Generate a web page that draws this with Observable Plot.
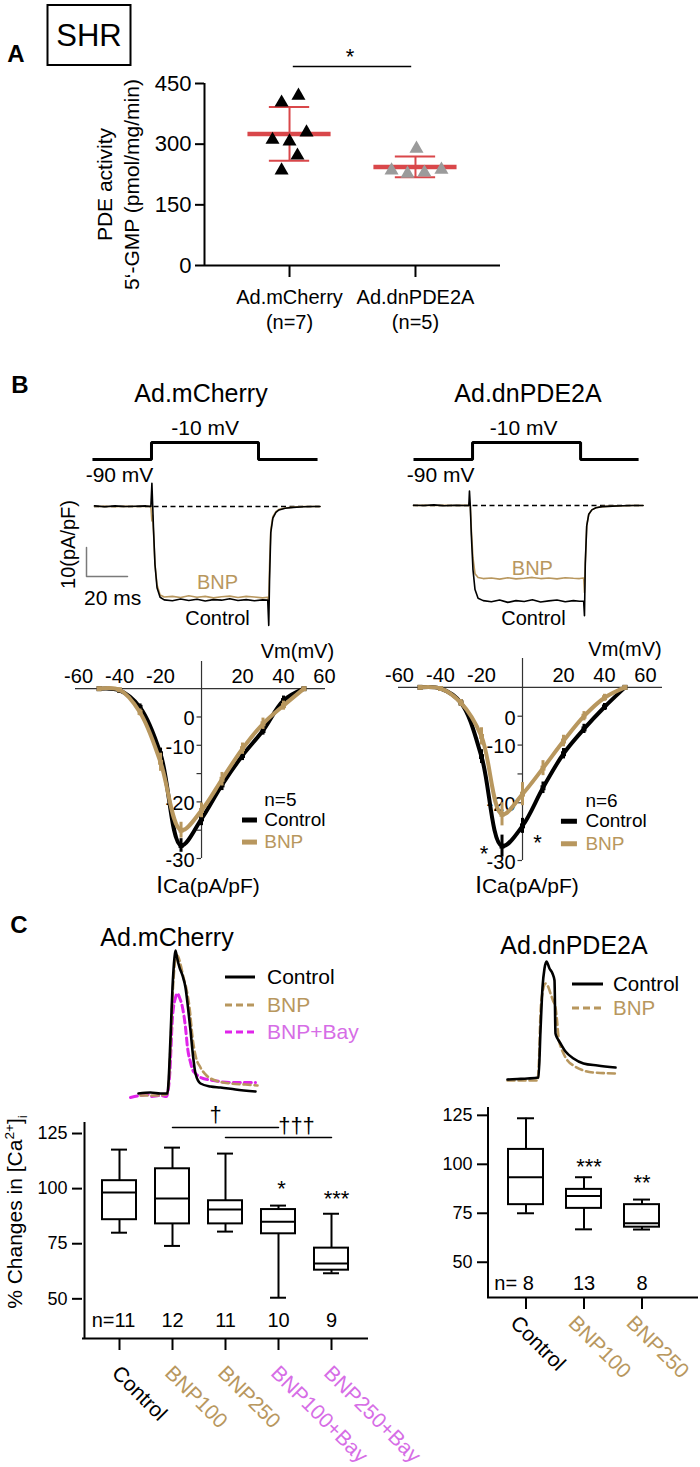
<!DOCTYPE html>
<html>
<head>
<meta charset="utf-8">
<script src="https://cdn.jsdelivr.net/npm/d3@7"></script>
<script src="https://cdn.jsdelivr.net/npm/@observablehq/plot@0.6"></script>
<style>
html,body{margin:0;padding:0;background:#fff;}
#fig{position:relative;width:700px;height:1467px;overflow:hidden;font-family:"Liberation Sans",Arial,Helvetica,sans-serif;color:#000;background:#fff;}
#fig svg{position:absolute;overflow:visible;}
.t{position:absolute;white-space:nowrap;line-height:1;}
sup,sub{font-size:0.65em;line-height:0;}
</style>
</head>
<body>
<div id="fig"></div>
<script>
// ================= DATA =================
// Panel A – PDE activity
const groupsA = ["Ad.mCherry", "Ad.dnPDE2A"];
const nLabelsA = ["(n=7)", "(n=5)"];
const pdeMCherry = [403, 420, 329, 311, 307, 272, 235];
const pdeDnPDE2A = [235, 227, 289, 230, 237];
const ticksA = [0, 150, 300, 450];

// Panel B – voltage protocol (ms, mV)
const stepVolt = [-90, -90, -10, -10, -90, -90];
const stepTimeL = [-1, 27.8, 27.8, 80, 80, 108.8];
const stepTimeR = [0, 28.8, 28.8, 81.5, 81.5, 109.8];

// Panel B – current traces (ms, pA/pF)
const traceTimeL = [0,5,10,15,20,25,27.5,28,28.3,28.8,29.5,30.5,32,34,38,42,46,50,54,58,62,66,70,74,78,82,84.5,85,85.4,86,87,88.5,90,93,97,102,107,110];
const traceCtrlL = [0.2,-0.1,0.2,0,0.1,0.2,0,8,2,-8,-20,-28,-31.3,-32.2,-32.5,-31.9,-32.4,-32,-32.6,-32.1,-32.3,-31.8,-32.4,-32.1,-32.5,-32.2,-32.3,-41,-25,-9,-4,-2,-1.2,-0.6,-0.3,-0.1,0,0];
const traceBnpL  = [0,0.1,-0.1,0.1,0,0.1,0,-5,-3,-9,-20,-27,-30.5,-31.2,-31.0,-31.4,-30.8,-31.3,-31.0,-31.5,-31.1,-30.9,-31.4,-31.0,-31.2,-31.5,-31.3,-33,-20,-8,-3.5,-1.8,-1,-0.5,-0.2,0,0,0];
const traceTimeR = [0,5,10,15,20,25,27,27.3,27.7,28.2,29,30,31.5,34,38,42,46,50,54,58,62,66,70,74,78,81,83,83.4,83.8,84.5,85.5,87,89,92,97,102,107,112];
const traceCtrlR = [0.1,0,0.2,-0.1,0.1,0,0,5,0,-10,-22,-29,-32,-32.8,-33.2,-32.6,-33.4,-32.8,-33.1,-32.5,-33.3,-32.9,-32.6,-33.2,-32.8,-33,-33,-38,-20,-7,-3,-1.5,-0.8,-0.4,-0.2,-0.1,0,0];
const traceBnpR  = [0,0.1,0,0.1,0,0.1,0,1,0,-8,-18,-23.5,-24.8,-25.2,-25.0,-25.4,-24.9,-25.3,-25.1,-24.8,-25.2,-25.0,-25.3,-24.9,-25.1,-25.2,-25.0,-30,-20,-7,-3,-1.5,-0.8,-0.4,-0.2,-0.1,0,0];
const scaleBarCurrent = 10;   // pA/pF
const scaleBarTime = 20;      // ms

// Panel B – I–V relationships
const ivVm = [-50,-40,-30,-20,-10,0,10,20,30,40,50];
const ivCtrlL = [0,-0.3,-3.3,-11.5,-27.7,-23,-17,-11.8,-7.4,-2.1,0];
const ivBnpL  = [0,-0.2,-4.2,-13,-25,-21.5,-16,-10.6,-6.2,-3,0];
const ivSemCtrlL = [0.2,0.3,0.6,1.0,1.2,1.2,1.0,0.9,0.8,0.8,0.2];
const ivSemBnpL  = [0.2,0.3,0.6,1.6,1.4,1.3,1.2,1.0,1.0,0.8,0.2];
const ivCtrlR = [0,-0.2,-2.7,-12,-27.5,-24,-17.4,-11.5,-7.2,-3.4,0];
const ivBnpR  = [0,-0.2,-2.7,-8.5,-22,-18.5,-14,-9.3,-5,-1.8,0];
const ivSemCtrlR = [0.2,0.3,0.6,1.2,1.9,1.3,1.0,0.9,0.8,0.6,0.2];
const ivSemBnpR  = [0.2,0.3,0.6,1.5,2.0,2.0,1.3,1.0,0.8,0.6,0.2];
const ivXTicks = [-60,-40,-20,20,40,60];
const ivYTicks = [-5,-10,-15,-20,-25,-30];
const ivYLabelAt = [-5,-10,-20,-30];
const ivYLabelText = ["0","-10","-20","-30"];

// Panel C – Ca2+ transients (ms, ratio)
const caTimeCtrlL = [80,200,300,370,380,400,420,440,450,465,490,520,550,575,600,625,650,700,800,900,1050,1250];
const caCtrlL     = [1.04,1.05,1.04,1.04,1.15,1.6,2.1,2.4,2.47,2.4,2.3,2.22,2.1,1.9,1.67,1.42,1.24,1.14,1.11,1.1,1.08,1.06];
const caTimeBnpL  = [100,250,360,380,400,420,445,470,500,530,560,590,620,650,700,760,850,1000,1150,1270];
const caBnpL      = [1.02,1.02,1.03,1.12,1.5,2.0,2.35,2.42,2.33,2.2,2.08,1.9,1.6,1.42,1.3,1.22,1.17,1.14,1.13,1.12];
const caTimeBayL  = [0,100,170,200,300,360,390,420,450,470,490,520,550,570,600,620,650,700,830,1000,1250];
const caBayL      = [1.0,1.02,1.03,1.01,1.02,1.01,1.2,1.8,2.0,2.04,2.0,1.9,1.7,1.5,1.35,1.28,1.24,1.2,1.17,1.15,1.15];
const caTimeCtrlR = [0,100,200,310,330,350,370,390,420,450,470,480,500,530,580,660,760,900,1080];
const caCtrlR     = [1.01,1.015,1.02,1.03,1.5,1.93,2.12,2.19,2.12,2.07,2.0,1.47,1.42,1.37,1.29,1.22,1.17,1.15,1.13];
const caTimeBnpR  = [0,150,300,315,330,350,380,410,430,455,480,495,510,535,560,600,660,760,860,1080];
const caBnpR      = [1.0,1.0,1.0,1.2,1.67,1.88,1.97,1.93,1.87,1.8,1.73,1.6,1.43,1.33,1.27,1.2,1.15,1.1,1.08,1.07];

// Panel C – box plots (% changes in [Ca2+]i)
const condL = ["Control","BNP100","BNP250","BNP100+Bay","BNP250+Bay"];
const nL   = [11,12,11,10,9];
const minL = [80, 74, 80.5, 50.5, 61.6];
const q1L  = [85.9, 84, 84, 79.5, 63];
const medL = [98.2, 95.5, 90.5, 85, 66];
const q3L  = [103.6, 109, 94.5, 90.5, 73];
const maxL = [117.7, 118.6, 115.9, 92.3, 88.6];
const condR = ["Control","BNP100","BNP250"];
const nR   = [8,13,8];
const minR = [75, 66.8, 66.7];
const q1R  = [79.4, 77.5, 67.9];
const medR = [93.4, 83.8, 69.9];
const q3R  = [107.6, 87.2, 79.4];
const maxR = [123.5, 93.4, 82];
const ticksBox = [50,75,100,125];

// ================= STYLE / HELPERS =================
const FONT = '"Liberation Sans", Arial, Helvetica, sans-serif';
const TAN = "#b8975e", VIOLET = "#d66de6", MAGENTA = "#e024ea", RED = "#d9474a", GRAYTRI = "#9b9b9b", SCALEGRAY = "#7a7a7a";
const baseStyle = {fontFamily: FONT, background: "transparent", overflow: "visible", color: "#000"};
const fig = document.getElementById("fig");
function put(node, left, top) {
  node.style.position = "absolute"; node.style.left = left + "px"; node.style.top = top + "px";
  fig.appendChild(node); return node;
}
function txt(content, cx, cy, css = {}, rotate = 0) {
  const d = document.createElement("div");
  d.className = "t"; d.innerHTML = content;
  d.style.left = cx + "px"; d.style.top = cy + "px";
  d.style.transform = "translate(-50%,-50%)" + (rotate ? ` rotate(${rotate}deg)` : "");
  Object.assign(d.style, css);
  fig.appendChild(d); return d;
}
function legendSvg(rows, x1, x2, tx, fs) {
  const NS = "http://www.w3.org/2000/svg";
  const s = document.createElementNS(NS, "svg");
  s.setAttribute("width", 700); s.setAttribute("height", 1467);
  s.style.left = "0px"; s.style.top = "0px";
  for (const r of rows) {
    const l = document.createElementNS(NS, "line");
    l.setAttribute("x1", x1); l.setAttribute("x2", x2); l.setAttribute("y1", r.y); l.setAttribute("y2", r.y);
    l.setAttribute("stroke", r.color); l.setAttribute("stroke-width", 3);
    if (r.dash) l.setAttribute("stroke-dasharray", "7,4");
    s.appendChild(l);
    const t = document.createElementNS(NS, "text");
    t.setAttribute("x", tx); t.setAttribute("y", r.y); t.setAttribute("dy", "0.35em");
    t.setAttribute("fill", r.textColor); t.setAttribute("font-size", fs); t.setAttribute("font-family", FONT);
    t.textContent = r.label; s.appendChild(t);
  }
  fig.appendChild(s);
}

// ================= PANEL A =================
const jitterMC = [-0.063, 0.071, 0.135, -0.135, 0, 0.063, -0.063];
const jitterDN = [-0.19, -0.063, 0.008, 0.071, 0.206];
const ptsMC = pdeMCherry.map((v, i) => ({x: 1 + jitterMC[i], v}));
const ptsDN = pdeDnPDE2A.map((v, i) => ({x: 2 + jitterDN[i], v}));
const statsA = [pdeMCherry, pdeDnPDE2A].map((a, i) => ({g: i + 1, m: d3.mean(a), sd: d3.deviation(a)}));
const plotA = Plot.plot({
  width: 700, height: 340, marginLeft: 204, marginRight: 200, marginTop: 83, marginBottom: 75,
  style: {...baseStyle, fontSize: "20px"},
  x: {domain: [0.325, 2.675], axis: null},
  y: {domain: [0, 450], axis: null},
  marks: [
    Plot.axisY({ticks: ticksA, tickSize: 9, tickPadding: 4, fontSize: 22, strokeWidth: 2, label: null, tickFormat: d => String(d)}),
    Plot.axisX({ticks: [1, 2], tickSize: 12, tickPadding: 9, fontSize: 20, strokeWidth: 2, label: null, lineHeight: 1.25,
      tickFormat: d => groupsA[d - 1] + "\n" + nLabelsA[d - 1]}),
    Plot.ruleX([0.325], {strokeWidth: 2}),
    Plot.ruleY([0], {strokeWidth: 2}),
    Plot.text(["PDE activity\n5‘-GMP (pmol/mg/min)"], {text: d => d, frameAnchor: "left", textAnchor: "middle", lineAnchor: "middle",
      dx: -88, dy: 10, rotate: -90, fontSize: 21, lineHeight: 1.3}),
    Plot.ruleX(statsA, {x: "g", y1: d => d.m - d.sd, y2: d => d.m + d.sd, stroke: RED, strokeWidth: 2}),
    Plot.ruleY(statsA, {y: d => d.m + d.sd, x1: d => d.g - 0.16, x2: d => d.g + 0.16, stroke: RED, strokeWidth: 2}),
    Plot.ruleY(statsA, {y: d => d.m - d.sd, x1: d => d.g - 0.16, x2: d => d.g + 0.16, stroke: RED, strokeWidth: 2}),
    Plot.ruleY(statsA, {y: "m", x1: d => d.g - 0.33, x2: d => d.g + 0.33, stroke: RED, strokeWidth: 4.5}),
    Plot.dot(ptsMC, {x: "x", y: "v", symbol: "triangle", r: 5.2, fill: "#000", stroke: null}),
    Plot.dot(ptsDN, {x: "x", y: "v", symbol: "triangle", r: 5.2, fill: GRAYTRI, stroke: null}),
    Plot.ruleY([492], {x1: 1.03, x2: 1.97, strokeWidth: 1.5}),
    Plot.text(["*"], {text: d => d, x: 1.48, y: 516, fontSize: 22})
  ]
});
put(plotA, 0, 0);
txt("A", 16, 54, {fontWeight: "bold", fontSize: "24px"});
txt("SHR", 89, 35, {fontSize: "31px", border: "2.5px solid #000", width: "85px", height: "62px", boxSizing: "border-box",
  display: "flex", alignItems: "center", justifyContent: "center"});

// ================= PANEL B =================
txt("B", 20, 385, {fontWeight: "bold", fontSize: "24px"});
txt("Ad.mCherry", 201, 393, {fontSize: "25px"});
txt("Ad.dnPDE2A", 528, 393, {fontSize: "25px"});

function voltagePlot(stepTime, t10, t90, ml, mr) {
  return Plot.plot({
    width: 350, height: 70, marginLeft: ml, marginRight: mr, marginTop: 27, marginBottom: 26,
    style: {...baseStyle, fontSize: "21px"},
    x: {domain: [-10, 115], axis: null}, y: {domain: [-90, -10], axis: null},
    marks: [
      Plot.line(stepTime.map((t, i) => ({t, v: stepVolt[i]})), {x: "t", y: "v", strokeWidth: 3, strokeLinejoin: "miter", strokeLinecap: "butt"}),
      Plot.text(["-10 mV"], {text: d => d, x: t10, y: -10, dy: -14, fontSize: 21}),
      Plot.text(["-90 mV"], {text: d => d, x: t90, y: -90, dy: 16, fontSize: 21})
    ]
  });
}
put(voltagePlot(stepTimeL, 54, 12.2, 73.5, 20.25), 0, 415);
put(voltagePlot(stepTimeR, 53.7, 13.2, 42.5, 51.25), 350, 415);

function currentPlot(o) {
  const C = o.time.map((t, i) => ({t, v: o.ctrl[i]}));
  const B = o.time.map((t, i) => ({t, v: o.bnp[i]}));
  const marks = [
    Plot.ruleY([0], {x1: 0, x2: o.tEnd, strokeDasharray: "5,3.5", strokeWidth: 1.3}),
    Plot.line(B, {x: "t", y: "v", stroke: TAN, strokeWidth: 1.6}),
    Plot.line(C, {x: "t", y: "v", stroke: "#000", strokeWidth: 1.6}),
    Plot.text(["BNP"], {text: d => d, x: o.bnpLab[0], y: o.bnpLab[1], fill: TAN, fontSize: 20}),
    Plot.text(["Control"], {text: d => d, x: o.ctrlLab[0], y: o.ctrlLab[1], fontSize: 20})
  ];
  if (o.bar) {
    const [bt, bi] = o.bar;
    marks.push(
      Plot.line([{t: bt, v: bi}, {t: bt, v: bi - scaleBarCurrent}, {t: bt + scaleBarTime, v: bi - scaleBarCurrent}],
        {x: "t", y: "v", stroke: SCALEGRAY, strokeWidth: 1.5}),
      Plot.text([`${scaleBarCurrent}(pA/pF)`], {text: d => d, x: bt - 8.8, y: bi + 1, rotate: -90, fontSize: 20}),
      Plot.text([`${scaleBarTime} ms`], {text: d => d, x: bt + 12.7, y: bi - scaleBarCurrent - 7.6, fontSize: 21})
    );
  }
  return Plot.plot({
    width: 350, height: 170, marginLeft: o.ml, marginRight: o.mr, marginTop: o.mt, marginBottom: 170 - o.mt - 159.5,
    style: {...baseStyle, fontSize: "20px"},
    x: {domain: [-10, 115], axis: null}, y: {domain: [-45, 10], axis: null},
    marks
  });
}
put(currentPlot({time: traceTimeL, ctrl: traceCtrlL, bnp: traceBnpL, ml: 73.5, mr: 20.25, mt: 7, tEnd: 110,
  bnpLab: [60, -26.2], ctrlLab: [60, -38.6], bar: [-3.9, -14.1]}), 0, 470);
put(currentPlot({time: traceTimeR, ctrl: traceCtrlR, bnp: traceBnpR, ml: 42.5, mr: 51.25, mt: 6, tEnd: 112,
  bnpLab: [58, -21.7], ctrlLab: [58.5, -39]}), 350, 470);

function ivPlot(o) {
  const C = ivVm.map((vm, i) => ({vm, i: o.ctrl[i], sem: o.semC[i]}));
  const B = ivVm.map((vm, i) => ({vm, i: o.bnp[i], sem: o.semB[i]}));
  const series = (rows, color) => [
    Plot.line(rows, {x: "vm", y: "i", curve: "catmull-rom", stroke: color, strokeWidth: 4}),
    Plot.ruleX(rows, {x: "vm", y1: d => d.i - d.sem, y2: d => d.i + d.sem, stroke: color, strokeWidth: 3}),
    Plot.dot(rows, {x: "vm", y: "i", symbol: "square", r: 2.8, fill: color, stroke: null})
  ];
  const marks = [
    Plot.ruleY([0], {stroke: "#333", strokeWidth: 1.2}),
    Plot.ruleX([0], {stroke: "#333", strokeWidth: 1.2}),
    Plot.ruleY(ivYTicks, {y: d => d, x1: -2.2, x2: 0, stroke: "#333", strokeWidth: 1.2}),
    Plot.text(ivXTicks, {x: d => d, y: 0, dy: -12, text: d => String(d), fontSize: 20}),
    Plot.text(ivYLabelAt, {x: 0, y: d => d, dx: -7, dy: 2, textAnchor: "end", text: (d, i) => ivYLabelText[i], fontSize: 20}),
    Plot.text(["Vm(mV)"], {text: d => d, x: o.vmLab[0], y: o.vmLab[1], fontSize: 20}),
    ...series(C, "#000"),
    ...series(B, TAN),
    Plot.text([o.nText], {text: d => d, x: o.leg[2], y: -19.6, textAnchor: "start", fontSize: 19}),
    Plot.ruleY([-23.2], {x1: o.leg[0], x2: o.leg[1], stroke: "#000", strokeWidth: 5}),
    Plot.ruleY([-27.1], {x1: o.leg[0], x2: o.leg[1], stroke: TAN, strokeWidth: 5}),
    Plot.text(["Control"], {text: d => d, x: o.leg[2], y: -23.2, textAnchor: "start", fontSize: 19}),
    Plot.text(["BNP"], {text: d => d, x: o.leg[2], y: -27.1, textAnchor: "start", fontSize: 19, fill: TAN})
  ];
  if (o.stars) marks.push(...o.stars.map(s => Plot.text(["*"], {text: d => d, x: s[0], y: s[1], dx: s[2], fontSize: 22})));
  return Plot.plot({
    width: 350, height: 270, marginLeft: o.ml, marginRight: o.mr, marginTop: o.mt, marginBottom: o.mb,
    style: {...baseStyle, fontSize: "19px"},
    x: {domain: o.xd, axis: null}, y: {domain: [-30, o.ytop], axis: null},
    marks
  });
}
put(ivPlot({ctrl: ivCtrlL, bnp: ivBnpL, semC: ivSemCtrlL, semB: ivSemBnpL, ml: 75, mr: 25, mt: 31, mb: 42,
  xd: [-61.5, 60.5], ytop: 4.8, vmLab: [46.8, 6.5], nText: "n=5", leg: [20, 27.3, 30.6]}), 0, 630);
put(ivPlot({ctrl: ivCtrlR, bnp: ivBnpR, semC: ivSemCtrlR, semB: ivSemBnpR, ml: 48, mr: 38, mt: 28, mb: 40,
  xd: [-60.5, 68.3], ytop: 5, vmLab: [50, 6.6], nText: "n=6", leg: [19, 26.8, 30.7],
  stars: [[-10, -28.9, -18], [0, -26.9, 15]]}), 350, 630);
txt('<span style="font-size:24px">I</span><span style="font-size:21px">Ca(pA/pF)</span>', 208, 885, {});
txt('<span style="font-size:24px">I</span><span style="font-size:21px">Ca(pA/pF)</span>', 527, 885, {});

// ================= PANEL C =================
txt("C", 19, 925, {fontWeight: "bold", fontSize: "24px"});
txt("Ad.mCherry", 167, 937, {fontSize: "25px"});
txt("Ad.dnPDE2A", 574, 945, {fontSize: "25px"});

function caPlot(o) {
  return Plot.plot({
    width: 350, height: 180, marginLeft: o.ml, marginRight: o.mr, marginTop: o.mt, marginBottom: 180 - o.mt - 160,
    style: {...baseStyle},
    x: {domain: o.xd, axis: null}, y: {domain: [0.95, 2.55], axis: null},
    marks: o.series.map(s => Plot.line(s.t.map((t, i) => ({t, v: s.v[i]})),
      {x: "t", y: "v", stroke: s.color, strokeWidth: s.w, strokeDasharray: s.dash ? "7,4" : null, curve: "monotone-x"}))
  });
}
put(caPlot({ml: 130, mr: 93, mt: 12, xd: [0, 1270], series: [
  {t: caTimeBayL, v: caBayL, color: MAGENTA, w: 3, dash: true},
  {t: caTimeBnpL, v: caBnpL, color: TAN, w: 2.6, dash: true},
  {t: caTimeCtrlL, v: caCtrlL, color: "#000", w: 2.6}
]}), 0, 930);
put(caPlot({ml: 157, mr: 85, mt: 10, xd: [0, 1080], series: [
  {t: caTimeBnpR, v: caBnpR, color: TAN, w: 2.6, dash: true},
  {t: caTimeCtrlR, v: caCtrlR, color: "#000", w: 2.6}
]}), 350, 915);
legendSvg([
  {y: 977, color: "#000", label: "Control", textColor: "#000"},
  {y: 1005, color: TAN, dash: true, label: "BNP", textColor: TAN},
  {y: 1032, color: MAGENTA, dash: true, label: "BNP+Bay", textColor: VIOLET}
], 225, 255, 267, 21);
legendSvg([
  {y: 984, color: "#000", label: "Control", textColor: "#000"},
  {y: 1008, color: TAN, dash: true, label: "BNP", textColor: TAN}
], 572, 603, 613, 20.5);

const labelColor = c => c.includes("Bay") ? VIOLET : c.startsWith("BNP") ? TAN : "#000";
function boxPlot(o) {
  const rows = o.cond.map((c, i) => ({c, min: o.min[i], q1: o.q1[i], med: o.med[i], q3: o.q3[i], max: o.max[i], n: o.n[i]}));
  const marks = [
    Plot.ruleY([o.yd[0]], {strokeWidth: 2, insetRight: -o.axisExt}),
    Plot.ruleX([o.cond[0]], {x: d => d, dx: o.yAxisDx, strokeWidth: 2}),
    Plot.axisY({ticks: ticksBox, tickSize: 10, tickPadding: 5, fontSize: 18, strokeWidth: 2, label: null}),
    Plot.axisX({tickSize: 12, tickFormat: () => "", strokeWidth: 2, label: null}),
    Plot.ruleX(rows, {x: "c", y1: "min", y2: "q1", strokeWidth: 2}),
    Plot.ruleX(rows, {x: "c", y1: "q3", y2: "max", strokeWidth: 2}),
    Plot.barY(rows, {x: "c", y1: "q1", y2: "q3", fill: "#fff", stroke: "#000", strokeWidth: 2}),
    Plot.tickY(rows, {x: "c", y: "med", strokeWidth: 2}),
    Plot.tickY(rows, {x: "c", y: "min", strokeWidth: 2, insetLeft: 9, insetRight: 9}),
    Plot.tickY(rows, {x: "c", y: "max", strokeWidth: 2, insetLeft: 9, insetRight: 9}),
    Plot.text(rows.slice(0, 1), {x: "c", text: d => o.nPrefix + d.n, frameAnchor: "bottom", lineAnchor: "middle", dy: o.nDy, dx: o.n0dx, fontSize: 20}),
    Plot.text(rows.slice(1), {x: "c", text: d => String(d.n), frameAnchor: "bottom", lineAnchor: "middle", dy: o.nDy, fontSize: 20}),
    ...o.cond.map(c => Plot.text([c], {x: d => d, text: d => d, frameAnchor: "bottom", lineAnchor: "middle", dx: o.labDx, dy: o.labDy,
      rotate: 45, textAnchor: "start", fill: labelColor(c), fontSize: 21})),
    ...o.stars.map(s => Plot.text([s.text], {x: () => s.c, y: () => s.y, text: d => d, dx: s.dx || 0, fontSize: 22}))
  ];
  if (o.sig) marks.push(...o.sig);
  return Plot.plot({
    width: o.w, height: o.h, marginLeft: o.ml, marginRight: o.mr, marginTop: o.mt, marginBottom: o.mb,
    style: {...baseStyle, fontSize: "17px"},
    x: {type: "band", domain: o.cond, paddingInner: o.pi, paddingOuter: o.po, axis: null},
    y: {domain: o.yd, axis: null},
    marks
  });
}
const sigL = [
  Plot.line([{c: "BNP100", y: 127.7}, {c: "BNP100+Bay", y: 127.7}], {x: "c", y: "y", strokeWidth: 1.5}),
  Plot.line([{c: "BNP250", y: 123.2}, {c: "BNP250+Bay", y: 123.2}], {x: "c", y: "y", strokeWidth: 1.5}),
  Plot.text(["†"], {x: () => "BNP250", y: () => 133.2, dx: -10, text: d => d, fontSize: 22}),
  Plot.text(["†††"], {x: () => "BNP100+Bay", y: () => 128.6, dx: 18, text: d => d, fontSize: 22})
];
put(boxPlot({cond: condL, n: nL, min: minL, q1: q1L, med: medL, q3: q3L, max: maxL,
  w: 400, h: 367, ml: 82, mr: 32, mt: 22, mb: 129, pi: 0.367, po: 0.335, yd: [32, 130],
  axisExt: 0, yAxisDx: -35, nPrefix: "n=", nDy: -18, n0dx: -6, labDx: -4, labDy: 31,
  stars: [{c: "BNP100+Bay", y: 99.7, text: "*", dx: 3}, {c: "BNP250+Bay", y: 95.2, text: "***", dx: 5}],
  sig: sigL}), 0, 1100);
put(boxPlot({cond: condR, n: nR, min: minR, q1: q1R, med: medR, q3: q3R, max: maxR,
  w: 300, h: 377, ml: 87, mr: 20, mt: 17, mb: 170, pi: 0.40, po: 0.35, yd: [32, 129],
  axisExt: 18, yAxisDx: -38, nPrefix: "n= ", nDy: -14, n0dx: -12, labDx: -12, labDy: 22,
  stars: [{c: "BNP100", y: 98.8, text: "***", dx: 5}, {c: "BNP250", y: 90.7, text: "**"}]}), 400, 1090);
txt('% Changes in [Ca<sup>2+</sup>]<sub>i</sub>', 14, 1212, {fontSize: "21px"}, -90);
</script>
</body>
</html>
